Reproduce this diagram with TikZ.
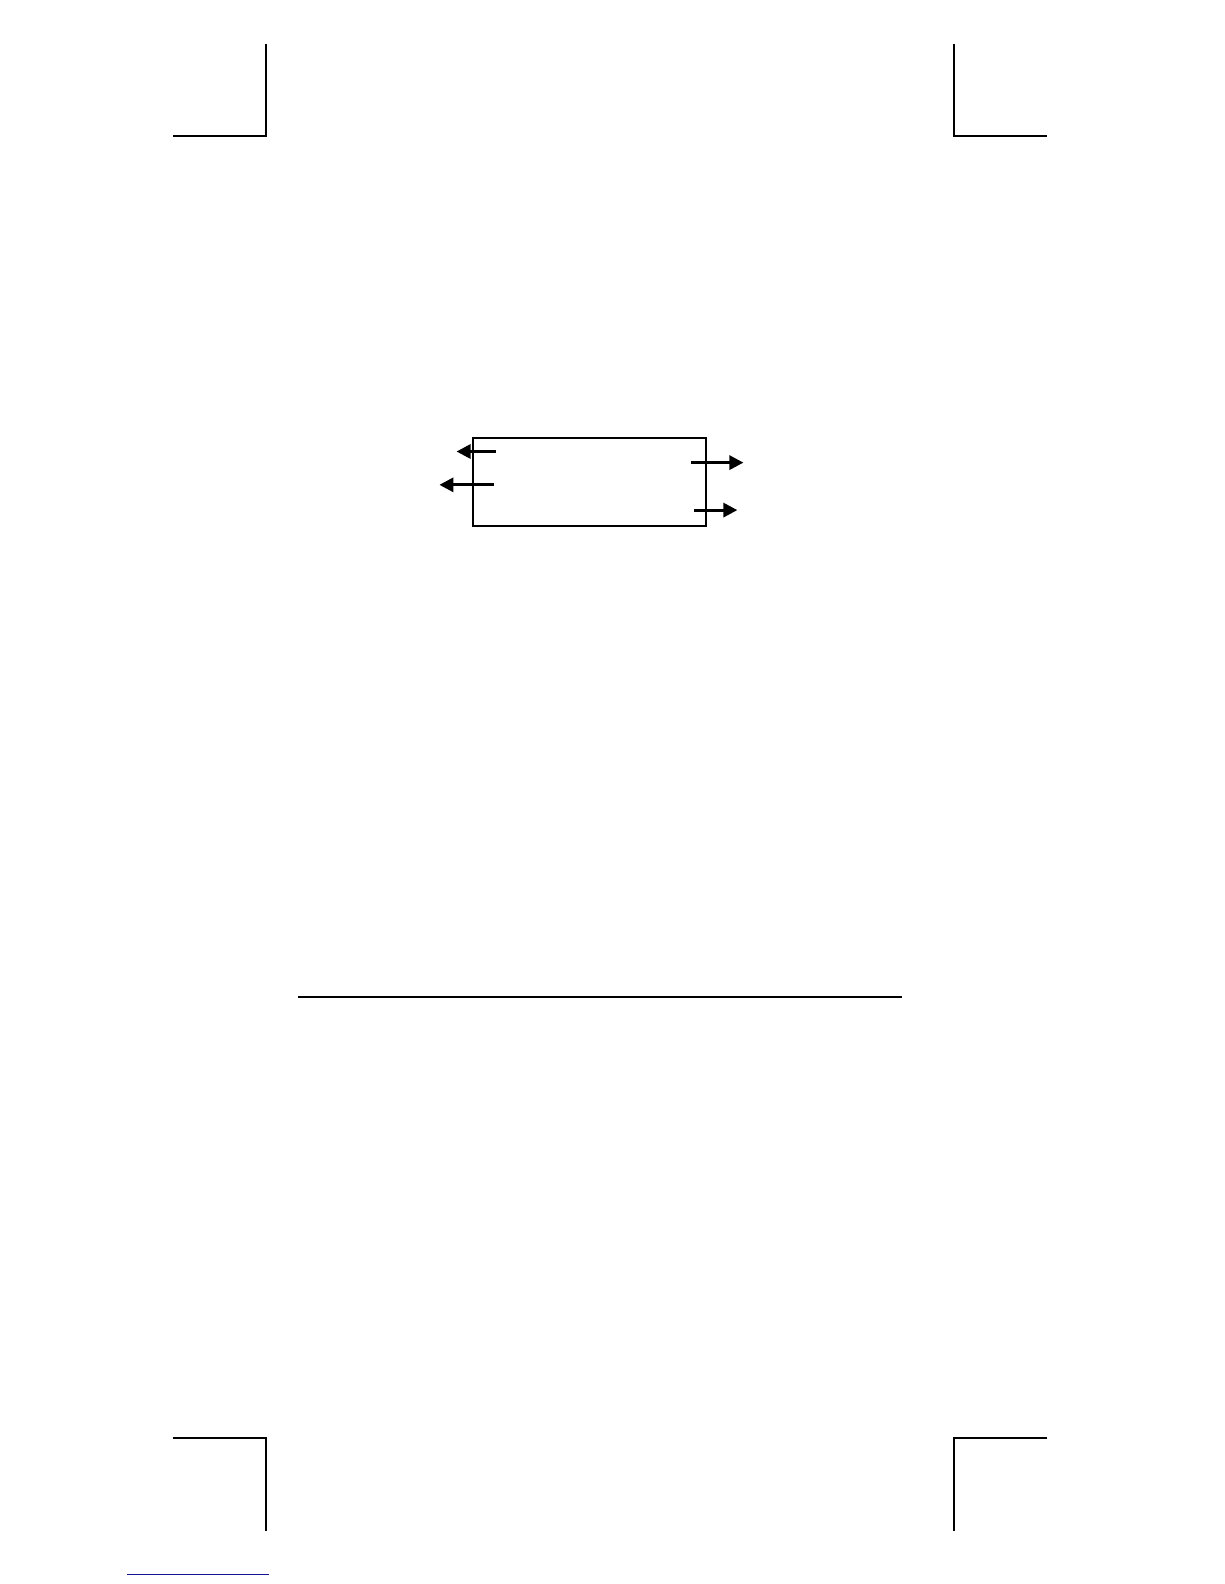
\documentclass[tikz,border=0pt]{standalone}
\usetikzlibrary{arrows.meta}
\definecolor{linkblue}{RGB}{20,20,150}
\begin{document}
\begin{tikzpicture}[x=1.0101pt,y=-1.0101pt,
  crop/.style={line width=2pt,black},
  sig/.style={line width=3pt,-{Triangle[length=14pt,width=14pt]}},
  rule/.style={line width=2.8pt}]
\useasboundingbox (0,0) rectangle (1211.8,1568.2);
% crop marks
\coordinate (tl1) at (263,44); \coordinate (tl2) at (263,135); \coordinate (tl3) at (171,135);
\draw[crop] (tl1) -- (tl2) -- (tl3);
\coordinate (tr1) at (944,44); \coordinate (tr2) at (944,135); \coordinate (tr3) at (1037,135);
\draw[crop] (tr1) -- (tr2) -- (tr3);
\coordinate (bl1) at (171,1424); \coordinate (bl2) at (263,1424); \coordinate (bl3) at (263,1516);
\draw[crop] (bl1) -- (bl2) -- (bl3);
\coordinate (br1) at (1037,1424); \coordinate (br2) at (944,1424); \coordinate (br3) at (944,1516);
\draw[crop] (br1) -- (br2) -- (br3);
% box
\node[draw,line width=1.9pt,minimum width=233.3pt,minimum height=87.9pt,inner sep=0pt] (box) at (583.5,477) {};
% arrows
\coordinate (a1s) at (491,447); \coordinate (a1e) at (452,447);
\coordinate (a2s) at (489,480); \coordinate (a2e) at (435,480);
\coordinate (a3s) at (684,458); \coordinate (a3e) at (736,458);
\coordinate (a4s) at (687,505); \coordinate (a4e) at (730,505);
\draw[sig] (a1s) -- (a1e);
\draw[sig] (a2s) -- (a2e);
\draw[sig] (a3s) -- (a3e);
\draw[sig] (a4s) -- (a4e);
% rule
\coordinate (r1) at (295,987); \coordinate (r2) at (893,987);
\draw[rule] (r1) -- (r2);
% blue underline
\coordinate (u1) at (126,1559); \coordinate (u2) at (266,1559);
\draw[linkblue,line width=1.2pt] (u1) -- (u2);
\end{tikzpicture}
\end{document}
